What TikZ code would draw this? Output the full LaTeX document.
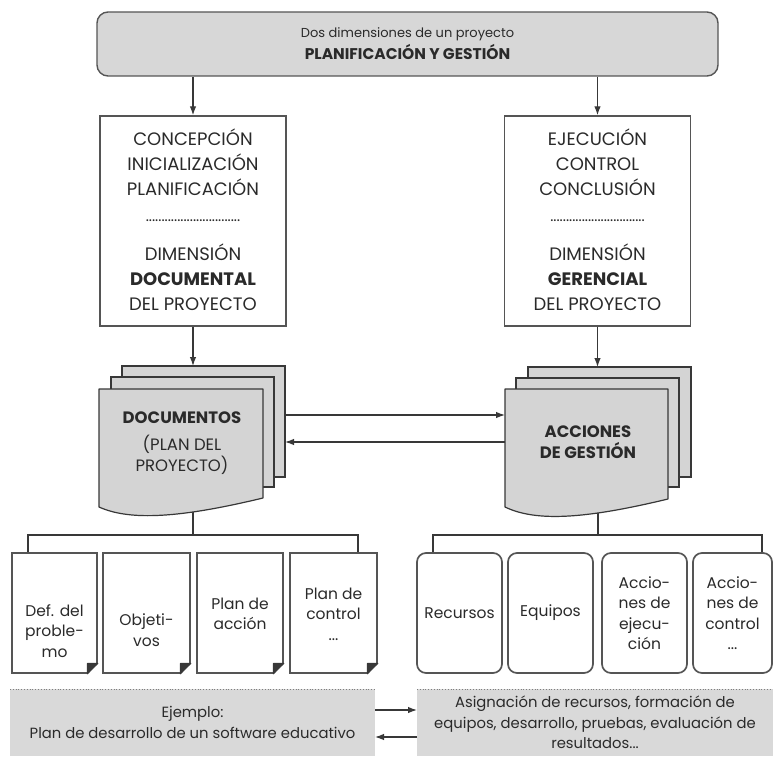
\documentclass[tikz,border=0pt]{standalone}
\usepackage{fontspec}
\setmainfont{Poppins}
\usetikzlibrary{arrows.meta,calc}

\definecolor{ink}{HTML}{383838}
\definecolor{rim}{HTML}{555555}
\definecolor{txt}{HTML}{2A2A2A}
\definecolor{panel}{HTML}{D7D7D7}
\definecolor{sheet}{HTML}{D4D4D4}
\definecolor{bandgray}{HTML}{D9D9D9}

% folded corner of a document card
\newcommand\dogear[1]{%
  \fill[white] ($(#1.south east)+(1.6,-11.5)$) -- ($(#1.south east)+(1.6,1.6)$) -- ($(#1.south east)+(-11.5,1.6)$) -- cycle;
  \filldraw[ink, line width=0.9pt, line join=round]
    ($(#1.south east)+(0,-10.5)$) -- ($(#1.south east)+(-10.5,0)$) -- ($(#1.south east)+(-10.5,-10.5)$) -- cycle;
}

\begin{document}
\begin{tikzpicture}[x=1pt,y=-1pt,
  every node/.style={text=txt},
  wire/.style={draw=ink, line width=1.2pt},
  arr/.style={wire, -{Latex[length=9pt,width=6.5pt]}},
  hub/.style={draw=rim, line width=1.4pt, fill=panel, rounded corners=11pt,
    minimum width=621pt, minimum height=64pt, inner sep=0pt, align=center,
    font=\fontsize{13}{22}\selectfont},
  phase/.style={draw=rim, line width=1.4pt, fill=white,
    minimum width=186pt, minimum height=210pt, inner sep=0pt},
  phasetext/.style={align=center, inner sep=0pt, font=\fontsize{18}{25}\selectfont},
  dots/.style={inner sep=0pt, font=\fontsize{15}{15}\selectfont},
  page/.style={draw=ink, line width=1.2pt, fill=sheet, inner sep=0pt, outer sep=0pt},
  pagetext/.style={inner sep=0pt, outer sep=0pt, align=center,
    font=\fontsize{16.5}{21}\selectfont},
  card/.style={draw=rim, line width=1.7pt, fill=white, inner sep=0pt,
    minimum height=120pt, align=center, font=\fontsize{15.5}{20.5}\selectfont},
  rcard/.style={card, rounded corners=9pt},
  cardtext/.style={align=center, inner sep=0pt, font=\fontsize{15.5}{20.5}\selectfont},
  band/.style={fill=bandgray, inner sep=0pt, outer sep=0pt, minimum height=67pt,
    align=center, font=\fontsize{14.8}{20.5}\selectfont},
]
\useasboundingbox (0,0) rectangle (773,757);

% header
\node[hub] (top) at (407.5,44) {Dos dimensiones de un proyecto\\{\fontsize{15.5}{22}\selectfont\textbf{PLANIFICACIÓN Y GESTIÓN}}};

% the two dimensions
\node[phase] (boxL) at (193,221) {};
\node[phase] (boxR) at (597.5,221) {};
\node[phasetext] (phL1) at (boxL |- 0,162) {CONCEPCIÓN\\INICIALIZACIÓN\\PLANIFICACIÓN};
\node[dots] (phLd) at (boxL |- 0,221) {..............................};
\node[phasetext] (phL2) at (boxL |- 0,277) {DIMENSIÓN\\\textbf{DOCUMENTAL}\\DEL PROYECTO};
\node[phasetext] (phR1) at (boxR |- 0,162) {EJECUCIÓN\\CONTROL\\CONCLUSIÓN};
\node[dots] (phRd) at (boxR |- 0,221) {..............................};
\node[phasetext] (phR2) at (boxR |- 0,277) {DIMENSIÓN\\\textbf{GERENCIAL}\\DEL PROYECTO};

\draw[arr] (top.south -| boxL.north) -- (boxL.north);
\draw[arr] (top.south -| boxR.north) -- (boxR.north);

% stems to the lower buses (behind the sheets)
\coordinate (busL) at (193,535);
\coordinate (busR) at (598,535);
\draw[wire] (busL |- 0,500) -- (busL);
\draw[wire] (busR |- 0,500) -- (busR);

% stacked sheets, left
\node[page, minimum width=163pt, minimum height=111pt] (docLback) at (203.5,421.5) {};
\node[page, minimum width=163pt, minimum height=110pt] (docLmid) at (192.5,432) {};
\filldraw[page, line join=round] (99,389) -- (263,389) -- (263,498)
  .. controls (180,518) and (130,521) .. (99,507) -- cycle;
\node[pagetext, minimum width=164pt, minimum height=118pt] (docL) at (181,448) {};
\node[pagetext] (docLtext) at (182,443) {\textbf{DOCUMENTOS}\\[6pt](PLAN DEL\\PROYECTO)};

% stacked sheets, right
\node[page, minimum width=163pt, minimum height=110pt] (docRback) at (609.5,422) {};
\node[page, minimum width=163pt, minimum height=109pt] (docRmid) at (597.5,432.5) {};
\filldraw[page, line join=round] (505,389) -- (668,389) -- (668,499)
  .. controls (585,519) and (536,522) .. (505,507) -- cycle;
\node[pagetext, minimum width=163pt, minimum height=118pt] (docR) at (586.5,448) {};
\node[pagetext] (docRtext) at (588,442.5) {\textbf{ACCIONES}\\\textbf{DE GESTIÓN}};

\draw[arr] (boxL.south) -- (boxL.south |- docLback.north);
\draw[arr] (boxR.south) -- (boxR.south |- docRback.north);

\draw[arr] (docLback.east |- 0,415) -- (docR.west |- 0,415);
\draw[arr] (docR.west |- 0,442) -- (docLback.east |- 0,442);

% document cards
\node[card, minimum width=85pt] (d1) at (54.5,613) {};
\node[card, minimum width=87pt] (d2) at (146.5,613) {};
\node[card, minimum width=86pt] (d3) at (240,613) {};
\node[card, minimum width=87pt] (d4) at (333.5,613) {};
\foreach \n in {d1,d2,d3,d4} {\dogear{\n}}
\node[cardtext] (t1) at (d1 |- 0,631) {Def. del\\proble-\\mo};
\node[cardtext] (t2) at (d2 |- 0,630) {Objeti-\\vos};
\node[cardtext] (t3) at (d3 |- 0,614) {Plan de\\acción};
\node[cardtext] (t4) at (d4 |- 0,614) {Plan de\\control\\...};

\draw[wire] (d1.north -| 28,0) -- (28,535) -- (busL) -- (358,535) -- (d4.north -| 358,0);

% management cards
\node[rcard, minimum width=85pt] (r1) at (459.5,613) {Recursos};
\node[rcard, minimum width=85pt] (r2) at (550.5,613) {Equipos};
\node[rcard, minimum width=85pt] (r3) at (644.5,613) {Accio-\\nes de\\ejecu-\\ción};
\node[rcard, minimum width=79pt] (r4) at (732.5,613) {Accio-\\nes de\\control\\...};

\draw[wire] (r1.north -| 433,0) -- (433,535) -- (busR) -- (762,535) -- (r4.north -| 762,0);

% example bands
\node[band, minimum width=365pt] (bandL) at (192.5,722.5) {Ejemplo:\\Plan de desarrollo de un software educativo};
\node[band, minimum width=356pt] (bandR) at (595,722.5) {Asignación de recursos, formación de\\equipos, desarrollo, pruebas, evaluación de\\resultados...};
\draw[gray, dotted, line width=0.8pt] (bandL.north west) -- (bandL.north east);
\draw[gray, dotted, line width=0.8pt] (bandR.north west) -- (bandR.north east);

\draw[arr] (bandL.east |- 0,710) -- (bandR.west |- 0,710);
\draw[arr] (bandR.west |- 0,737) -- (bandL.east |- 0,737);
\end{tikzpicture}
\end{document}
